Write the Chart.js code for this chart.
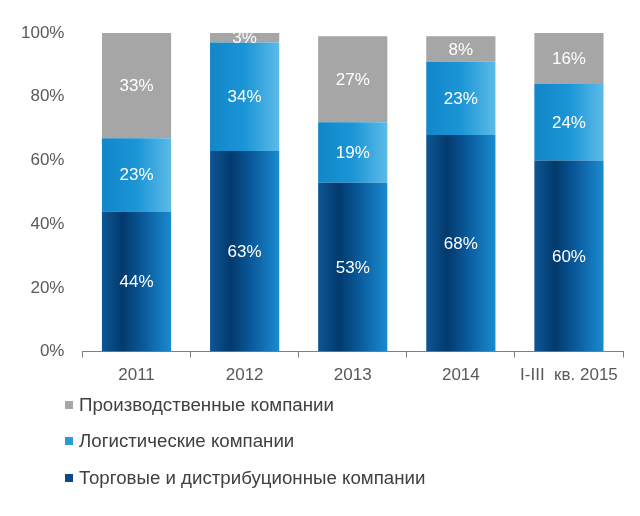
<!DOCTYPE html>
<html>
<head>
<meta charset="utf-8">
<script src="https://cdn.jsdelivr.net/npm/chart.js@4"></script>
<style>
  html, body { margin: 0; padding: 0; background: #fff; }
  #wrap { width: 640px; height: 516px; }
</style>
</head>
<body>
<div id="wrap"><canvas id="chart"></canvas></div>
<script>
const categories = ["2011", "2012", "2013", "2014", "I-III  кв. 2015"];
const trade = [44, 63, 53, 68, 60];
const logistics = [23, 34, 19, 23, 24];
const production = [33, 3, 27, 8, 16];
const yTicks = [0, 20, 40, 60, 80, 100];

const names = ["Торговые и дистрибуционные компании", "Логистические компании", "Производственные компании"];

const FONT = "'Liberation Sans', Arial, sans-serif";

// gradient across each bar, left -> right
function barGradient(stops, fallback) {
  return (ctx) => {
    const chart = ctx.chart;
    const x = chart.scales.x;
    if (!x || ctx.dataIndex === undefined) return fallback;
    const cx = x.getPixelForValue(ctx.dataIndex);
    const w = (x.width / categories.length) * 0.64;
    if (!isFinite(cx) || !isFinite(w) || w <= 0) return fallback;
    const g = chart.ctx.createLinearGradient(cx - w / 2, 0, cx + w / 2, 0);
    stops.forEach(s => g.addColorStop(s[0], s[1]));
    return g;
  };
}

const darkStops = [[0, "#0e5694"], [0.3, "#023a6d"], [0.6, "#0a5a9c"], [1, "#1a8bcf"]];
const lightStops = [[0, "#1286c8"], [0.5, "#1b95d6"], [1, "#5cbbe8"]];

const segLabels = {
  id: "segLabels",
  afterDatasetsDraw(chart) {
    const c = chart.ctx;
    c.save();
    c.font = "17px " + FONT;
    c.fillStyle = "#ffffff";
    c.textAlign = "center";
    c.textBaseline = "middle";
    chart.data.datasets.forEach((ds, i) => {
      chart.getDatasetMeta(i).data.forEach((bar, j) => {
        c.fillText(ds.data[j] + "%", bar.x, (bar.y + bar.base) / 2 + 1);
      });
    });
    c.restore();
  }
};

// vertical legend under the axis
const sideLegend = {
  id: "sideLegend",
  afterDraw(chart) {
    const c = chart.ctx;
    const items = [
      { t: names[2], col: "#a6a6a6" },
      { t: names[1], col: "#2a9ad8" },
      { t: names[0], col: "#0b4a86" }
    ];
    const ys = [405, 441, 478];
    c.save();
    c.font = "18.7px " + FONT;
    c.textBaseline = "middle";
    items.forEach((it, k) => {
      c.fillStyle = it.col;
      c.fillRect(65, ys[k] - 4, 8, 8);
      c.fillStyle = "#404040";
      c.fillText(it.t, 79, ys[k] + 1);
    });
    c.restore();
  }
};

new Chart(document.querySelector("#chart"), {
  type: "bar",
  data: {
    labels: categories,
    datasets: [
      { label: names[0], data: trade, backgroundColor: barGradient(darkStops, "#0a4a85") },
      { label: names[1], data: logistics, backgroundColor: barGradient(lightStops, "#2aa0de") },
      { label: names[2], data: production, backgroundColor: "#a6a6a6" }
    ]
  },
  options: {
    responsive: true,
    maintainAspectRatio: false,
    animation: false,
    layout: { padding: { left: 11, right: 17, top: 33, bottom: 122 } },
    datasets: { bar: { categoryPercentage: 1, barPercentage: 0.64 } },
    plugins: { legend: { display: false }, tooltip: { enabled: false } },
    scales: {
      x: {
        stacked: true,
        grid: { drawOnChartArea: false, color: "#808080", tickLength: 6 },
        border: { display: true, color: "#808080" },
        ticks: { color: "#595959", font: { size: 17, family: FONT }, padding: 8 }
      },
      y: {
        stacked: true,
        min: 0,
        max: 100,
        afterBuildTicks: (axis) => { axis.ticks = yTicks.map(v => ({ value: v })); },
        grid: { display: false },
        border: { display: false },
        ticks: { color: "#595959", font: { size: 17, family: FONT }, padding: 10, callback: v => v + "%" }
      }
    }
  },
  plugins: [segLabels, sideLegend]
});
</script>
</body>
</html>
